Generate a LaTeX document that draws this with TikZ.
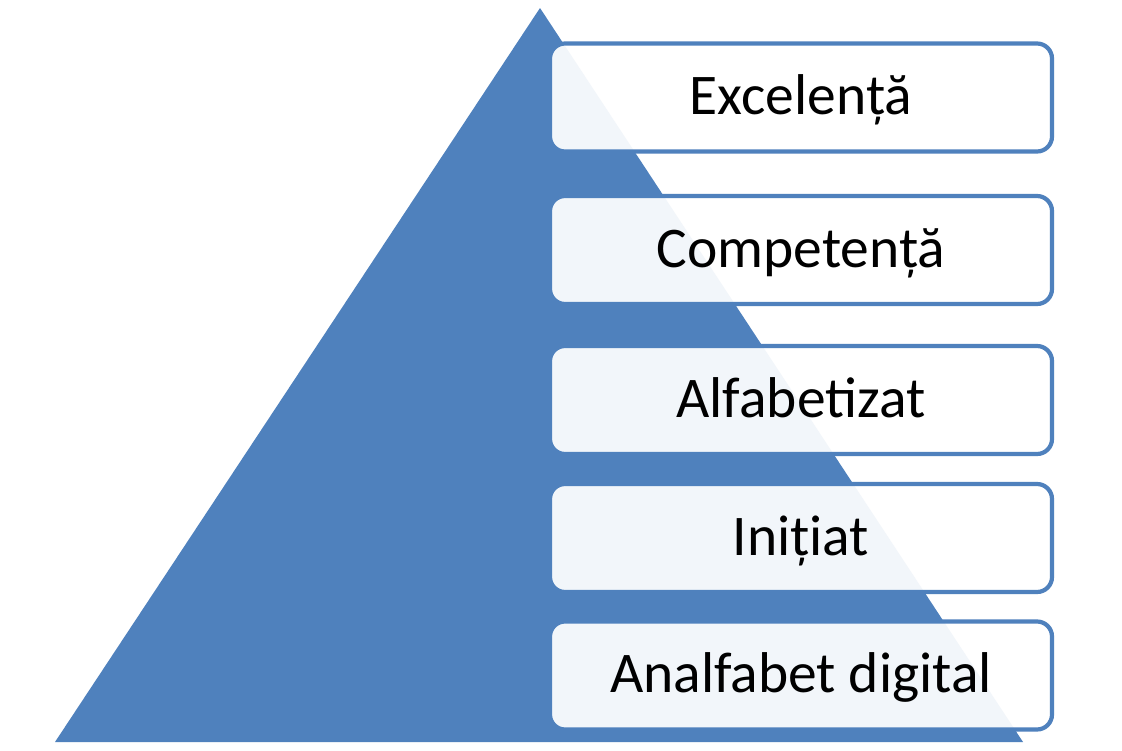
\documentclass[tikz,border=0pt]{standalone}
\usepackage{fontspec}
\setmainfont{Carlito}
\definecolor{pyrblue}{HTML}{4F81BD}
\begin{document}
\begin{tikzpicture}[x=1pt,y=-1pt,
  levelbox/.style={draw=pyrblue, line width=4.2pt, rounded corners=15pt,
    fill=white, fill opacity=0.93, text opacity=1, text=black,
    minimum width=502pt, minimum height=108pt, inner sep=0pt,
    text height=36pt, text depth=2pt,
    font=\fontsize{57.5}{60}\selectfont}]
\useasboundingbox (0,0) rectangle (1122,750);
\fill[white] (0,0) rectangle (1122,750);
\coordinate (apex) at (540,8);
\coordinate (bl) at (55,742);
\coordinate (br) at (1023,742);
\fill[pyrblue] (apex) -- (bl) -- (br) -- cycle;
\node[levelbox] (b1) at (801,97.5) {Excelență};
\node[levelbox] (b2) at (801,250) {Competență};
\node[levelbox] (b3) at (801,400) {Alfabetizat};
\node[levelbox] (b4) at (801,538) {Inițiat};
\node[levelbox] (b5) at (801,675.5) {Analfabet digital};
\end{tikzpicture}
\end{document}
